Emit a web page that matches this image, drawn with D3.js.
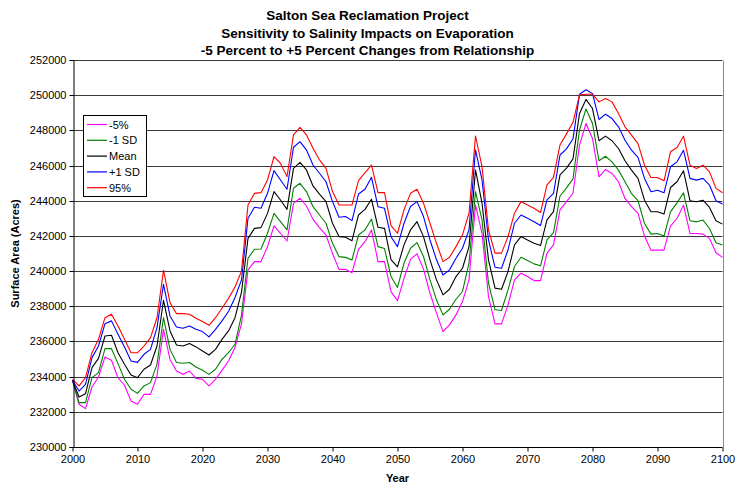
<!DOCTYPE html>
<html>
<head>
<meta charset="utf-8">
<script src="https://cdn.jsdelivr.net/npm/d3@7"></script>
<style>
  html, body { margin: 0; padding: 0; background: #fff; }
  svg { display: block; font-family: "Liberation Sans", Arial, sans-serif; }
</style>
</head>
<body>
<svg id="chart" width="735" height="486"></svg>
<script>
const titleLines = [
  "Salton Sea Reclamation Project",
  "Sensitivity to Salinity Impacts on Evaporation",
  "-5 Percent to +5 Percent Changes from Relationship"
];
const xLabel = "Year";
const yLabel = "Surface Area (Acres)";
const years = d3.range(2000, 2101);
const xTicks = d3.range(2000, 2101, 10);
const yTicks = d3.range(230000, 252001, 2000);

const seriesNames = ["-5%", "-1 SD", "Mean", "+1 SD", "95%"];
const seriesColors = ["#ff00ff", "#008000", "#000000", "#0000ff", "#ff0000"];

const minus5 = [
233790,232430,232180,233410,233980,235120,234930,233940,233510,232610,
232430,232990,232990,234040,236690,234980,234320,234130,234320,233900,
233850,233470,233850,234360,234890,235650,237000,240070,240540,240540,
241390,242570,242150,241710,243850,244140,243700,242940,242470,242050,
241010,240100,240100,239910,241240,241670,242340,240540,240540,238830,
238320,239590,240670,240980,240110,238740,237610,236560,236940,237510,
238270,239500,243760,242150,238550,237000,237000,238080,239500,239880,
239690,239460,239460,241020,241490,243480,243950,244440,247160,248390,
247540,245360,245780,245550,245080,244130,243660,243280,241990,241190,
241190,241190,242560,242990,243750,242140,242140,242100,241860,241040,
240780];

const minus1SD = [
233790,232520,232520,233940,234230,235590,235590,234740,233850,233280,
233050,233470,233660,234700,237360,235550,234800,234760,234800,234550,
234360,234130,234420,234980,235360,235840,237500,240730,241240,241260,
242150,243280,242810,242340,244710,244990,244520,243660,243190,242720,
241580,240820,240780,240630,242050,242340,242960,241390,241280,239690,
239070,240450,241300,241620,240830,239500,238360,237510,237830,238400,
238840,240450,244520,242910,239310,237800,237760,238930,240260,240790,
240600,240410,240300,241770,242190,244270,244730,245240,248020,249220,
248390,246270,246530,246210,245740,245080,244410,244000,242710,242100,
242140,241990,243370,243880,244450,242860,242800,242900,242420,241610,
241480];

const meanVals = [
233790,232840,233030,234510,235040,236310,236350,235360,234700,234090,
233940,234420,234660,235740,238340,236600,235800,235740,235880,235690,
235460,235230,235550,236120,236600,237350,238800,241860,242430,242470,
243280,244520,244040,243510,245840,246180,245750,244840,244380,243950,
242720,241960,241920,241730,243190,243510,244080,242490,242430,240650,
240240,241490,242340,242810,241960,240640,239500,238650,238970,239690,
240160,241390,245750,243860,240640,239030,238970,239970,241490,241960,
241770,241580,241450,242910,243380,245470,245850,246380,248960,249760,
249240,247410,247670,247410,246970,246270,245740,245270,244030,243370,
243370,243240,244750,245080,245700,244000,243940,244030,243620,242860,
242670];

const plus1SD = [
233790,233180,233560,235080,235740,237010,237170,236410,235690,234890,
234810,235270,235550,236790,239250,237450,236820,236750,236880,236690,
236560,236260,236690,237170,237700,238500,239500,243000,243630,243570,
244420,245710,245180,244650,247040,247360,246880,246030,245560,245080,
243950,243060,243100,242870,244380,244650,245330,243660,243570,241950,
241390,242720,243670,243950,243100,241770,240640,239780,240070,240730,
241300,242340,246890,245180,241770,240220,240160,241200,242720,243190,
243000,242810,242590,244050,244420,246600,246950,247520,250050,250310,
250090,248620,248920,248670,248200,247440,246870,246460,245270,244510,
244600,244450,245930,246210,246870,245270,245170,245270,244890,244000,
243810];

const pct95 = [
233850,233470,233940,235360,236120,237350,237550,236880,236120,235360,
235360,235740,236220,237350,240050,238210,237580,237580,237550,237320,
237130,236920,237350,237890,238450,239100,240000,243760,244420,244460,
245180,246500,246120,245370,247740,248170,247740,246980,246320,245840,
244520,243760,243760,243760,245140,245600,246030,244460,244460,242590,
242150,243480,244420,244650,243860,242720,241580,240540,240790,241390,
242060,243290,247680,245940,242340,241020,241020,241960,243290,243950,
243760,243570,243330,244900,245330,247170,247800,248460,250020,250050,
250050,249620,249810,249620,248960,248200,247730,247250,246020,245320,
245320,245130,246780,247030,247670,246020,245830,246020,245640,244700,
244450];

const seriesValues = [minus5, minus1SD, meanVals, plus1SD, pct95];

const svg = d3.select("#chart");
const W = 735;
const L = 72.5, R = 722.5, T = 60, B = 447;

const x = d3.scaleLinear().domain([2000, 2100]).range([L, R]);
const y = d3.scaleLinear().domain([230000, 252000]).range([B, T]);

// Titles (centred on the whole chart area)
const title = svg.append("text")
  .attr("x", W / 2)
  .attr("text-anchor", "middle")
  .style("font-weight", "bold")
  .style("font-size", "13.5px")
  .attr("fill", "#000");
titleLines.forEach((t, i) => {
  title.append("tspan").attr("x", W / 2).attr("y", 20 + i * 17.5).text(t);
});

// Gridlines
svg.append("g")
  .selectAll("line")
  .data(yTicks.filter(v => v > 230000))
  .join("line")
  .attr("x1", L).attr("x2", R)
  .attr("y1", d => Math.round(y(d)) + 0.5)
  .attr("y2", d => Math.round(y(d)) + 0.5)
  .attr("stroke", "#3a3a3a")
  .attr("stroke-width", 1);

// Right border
svg.append("line")
  .attr("x1", Math.round(R) + 0.5).attr("x2", Math.round(R) + 0.5)
  .attr("y1", Math.round(y(252000)) + 0.5).attr("y2", Math.round(B) + 0.5)
  .attr("stroke", "#888");

// Lines
const line = d3.line()
  .x((d, i) => x(years[i]))
  .y(d => y(d));

svg.append("g")
  .selectAll("path")
  .data(seriesValues)
  .join("path")
  .attr("d", d => line(d))
  .attr("fill", "none")
  .attr("stroke", (d, i) => seriesColors[i])
  .attr("stroke-width", 1.1)
  .attr("stroke-linejoin", "round");

// Axes
const yAxis = d3.axisLeft(y).tickValues(yTicks).tickFormat(d3.format("d")).tickSize(4).tickPadding(3);
const gy = svg.append("g").attr("transform", `translate(${Math.round(L) + 0.5},0)`).call(yAxis);
gy.selectAll("text").style("font-size", "11px").attr("fill", "#000");
gy.selectAll("line,path").attr("stroke", "#000");
gy.selectAll(".tick").attr("transform", d => `translate(0,${Math.round(y(d)) + 0.5})`);

const xAxis = d3.axisBottom(x).tickValues(xTicks).tickFormat(d3.format("d")).tickSize(4).tickPadding(4);
const gx = svg.append("g").attr("transform", `translate(0,${Math.round(B) + 0.5})`).call(xAxis);
gx.selectAll("text").style("font-size", "11px").attr("fill", "#000");
gx.selectAll("line,path").attr("stroke", "#000");
gx.select(".domain").attr("d", `M${L},0H${R}`);

// Axis titles
svg.append("text")
  .attr("x", (L + R) / 2).attr("y", 482)
  .attr("text-anchor", "middle")
  .style("font-weight", "bold").style("font-size", "11px")
  .text(xLabel);

svg.append("text")
  .attr("transform", `translate(19,${(T + B) / 2}) rotate(-90)`)
  .attr("text-anchor", "middle")
  .style("font-weight", "bold").style("font-size", "11px")
  .text(yLabel);

// Legend
const lg = svg.append("g");
lg.append("rect")
  .attr("x", 83.5).attr("y", 115.5).attr("width", 63).attr("height", 81)
  .attr("fill", "#fff").attr("stroke", "#000");
seriesNames.forEach((n, i) => {
  const yy = 124.5 + i * 15.8;
  lg.append("line").attr("x1", 87).attr("x2", 107)
    .attr("y1", yy).attr("y2", yy)
    .attr("stroke", seriesColors[i]).attr("stroke-width", 1.2);
  lg.append("text").attr("x", 109).attr("y", yy + 4)
    .style("font-size", "11px").text(n);
});
</script>
</body>
</html>
